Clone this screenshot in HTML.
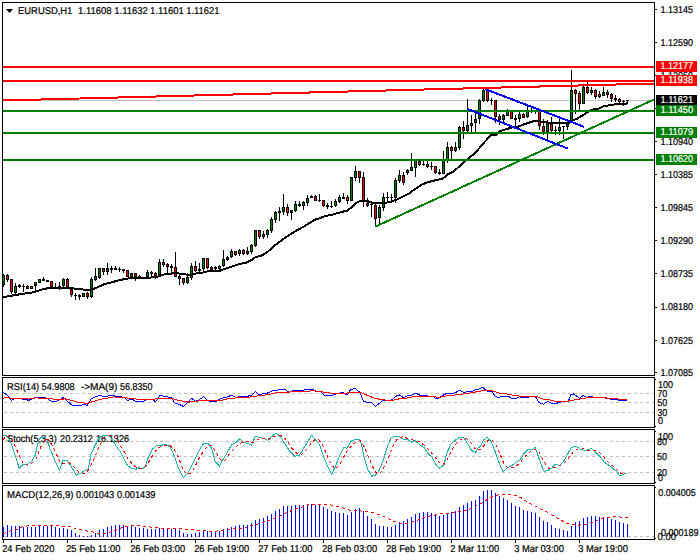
<!DOCTYPE html>
<html><head><meta charset="utf-8"><title>EURUSD H1</title>
<style>html,body{margin:0;padding:0;background:#fff;}body{width:700px;height:560px;overflow:hidden;font-family:"Liberation Sans", sans-serif;}svg{display:block}</style>
</head><body>
<svg width="700" height="560" viewBox="0 0 700 560" font-family='"Liberation Sans", sans-serif' shape-rendering="crispEdges" text-rendering="geometricPrecision">
<rect x="0" y="0" width="700" height="560" fill="#fff"/>
<g>
<rect x="3" y="100" width="651" height="1" fill="#c0c0c0"/>
<rect x="3" y="274" width="1" height="13" fill="#000"/>
<rect x="2" y="275" width="3" height="10" fill="#000"/>
<rect x="3" y="276" width="1" height="8" fill="#008000"/>
<rect x="7" y="274" width="1" height="8" fill="#000"/>
<rect x="6" y="275" width="3" height="5" fill="#000"/>
<rect x="7" y="276" width="1" height="3" fill="#ff0000"/>
<rect x="11" y="279" width="1" height="15" fill="#000"/>
<rect x="10" y="279" width="3" height="13" fill="#000"/>
<rect x="11" y="280" width="1" height="11" fill="#ff0000"/>
<rect x="15" y="283" width="1" height="11" fill="#000"/>
<rect x="14" y="286" width="3" height="7" fill="#000"/>
<rect x="15" y="287" width="1" height="5" fill="#008000"/>
<rect x="19" y="284" width="1" height="4" fill="#000"/>
<rect x="18" y="285" width="3" height="2" fill="#000"/>
<rect x="23" y="284" width="1" height="8" fill="#000"/>
<rect x="22" y="286" width="3" height="1" fill="#000"/>
<rect x="27" y="285" width="1" height="4" fill="#000"/>
<rect x="26" y="286" width="3" height="3" fill="#000"/>
<rect x="27" y="287" width="1" height="1" fill="#ff0000"/>
<rect x="31" y="286" width="1" height="3" fill="#000"/>
<rect x="30" y="286" width="3" height="3" fill="#000"/>
<rect x="31" y="287" width="1" height="1" fill="#008000"/>
<rect x="35" y="282" width="1" height="9" fill="#000"/>
<rect x="34" y="282" width="3" height="4" fill="#000"/>
<rect x="35" y="283" width="1" height="2" fill="#008000"/>
<rect x="39" y="279" width="1" height="4" fill="#000"/>
<rect x="38" y="279" width="3" height="4" fill="#000"/>
<rect x="39" y="280" width="1" height="2" fill="#008000"/>
<rect x="43" y="277" width="1" height="4" fill="#000"/>
<rect x="42" y="279" width="3" height="2" fill="#000"/>
<rect x="47" y="280" width="1" height="2" fill="#000"/>
<rect x="46" y="280" width="3" height="2" fill="#000"/>
<rect x="51" y="281" width="1" height="6" fill="#000"/>
<rect x="50" y="281" width="3" height="6" fill="#000"/>
<rect x="51" y="282" width="1" height="4" fill="#ff0000"/>
<rect x="55" y="283" width="1" height="6" fill="#000"/>
<rect x="54" y="287" width="3" height="1" fill="#000"/>
<rect x="59" y="282" width="1" height="8" fill="#000"/>
<rect x="58" y="286" width="3" height="1" fill="#000"/>
<rect x="63" y="278" width="1" height="9" fill="#000"/>
<rect x="62" y="279" width="3" height="7" fill="#000"/>
<rect x="63" y="280" width="1" height="5" fill="#008000"/>
<rect x="67" y="278" width="1" height="10" fill="#000"/>
<rect x="66" y="279" width="3" height="8" fill="#000"/>
<rect x="67" y="280" width="1" height="6" fill="#ff0000"/>
<rect x="71" y="289" width="1" height="8" fill="#000"/>
<rect x="70" y="289" width="3" height="6" fill="#000"/>
<rect x="71" y="290" width="1" height="4" fill="#ff0000"/>
<rect x="75" y="293" width="1" height="7" fill="#000"/>
<rect x="74" y="295" width="3" height="1" fill="#000"/>
<rect x="79" y="294" width="1" height="6" fill="#000"/>
<rect x="78" y="295" width="3" height="2" fill="#000"/>
<rect x="83" y="293" width="1" height="4" fill="#000"/>
<rect x="82" y="293" width="3" height="4" fill="#000"/>
<rect x="83" y="294" width="1" height="2" fill="#008000"/>
<rect x="87" y="292" width="1" height="7" fill="#000"/>
<rect x="86" y="293" width="3" height="4" fill="#000"/>
<rect x="87" y="294" width="1" height="2" fill="#ff0000"/>
<rect x="91" y="277" width="1" height="21" fill="#000"/>
<rect x="90" y="279" width="3" height="18" fill="#000"/>
<rect x="91" y="280" width="1" height="16" fill="#008000"/>
<rect x="95" y="268" width="1" height="13" fill="#000"/>
<rect x="94" y="276" width="3" height="4" fill="#000"/>
<rect x="95" y="277" width="1" height="2" fill="#008000"/>
<rect x="99" y="268" width="1" height="11" fill="#000"/>
<rect x="98" y="268" width="3" height="10" fill="#000"/>
<rect x="99" y="269" width="1" height="8" fill="#008000"/>
<rect x="103" y="268" width="1" height="7" fill="#000"/>
<rect x="102" y="268" width="3" height="4" fill="#000"/>
<rect x="103" y="269" width="1" height="2" fill="#ff0000"/>
<rect x="107" y="263" width="1" height="12" fill="#000"/>
<rect x="106" y="268" width="3" height="4" fill="#000"/>
<rect x="107" y="269" width="1" height="2" fill="#008000"/>
<rect x="111" y="266" width="1" height="7" fill="#000"/>
<rect x="110" y="268" width="3" height="2" fill="#000"/>
<rect x="115" y="266" width="1" height="4" fill="#000"/>
<rect x="114" y="268" width="3" height="2" fill="#000"/>
<rect x="119" y="267" width="1" height="5" fill="#000"/>
<rect x="118" y="269" width="3" height="1" fill="#000"/>
<rect x="123" y="269" width="1" height="4" fill="#000"/>
<rect x="122" y="269" width="3" height="2" fill="#000"/>
<rect x="127" y="270" width="1" height="7" fill="#000"/>
<rect x="126" y="270" width="3" height="7" fill="#000"/>
<rect x="127" y="271" width="1" height="5" fill="#ff0000"/>
<rect x="131" y="273" width="1" height="4" fill="#000"/>
<rect x="130" y="273" width="3" height="4" fill="#000"/>
<rect x="131" y="274" width="1" height="2" fill="#008000"/>
<rect x="135" y="273" width="1" height="8" fill="#000"/>
<rect x="134" y="273" width="3" height="4" fill="#000"/>
<rect x="135" y="274" width="1" height="2" fill="#ff0000"/>
<rect x="139" y="275" width="1" height="3" fill="#000"/>
<rect x="138" y="276" width="3" height="2" fill="#000"/>
<rect x="143" y="277" width="1" height="1" fill="#000"/>
<rect x="142" y="277" width="3" height="1" fill="#000"/>
<rect x="147" y="270" width="1" height="8" fill="#000"/>
<rect x="146" y="272" width="3" height="5" fill="#000"/>
<rect x="147" y="273" width="1" height="3" fill="#008000"/>
<rect x="151" y="271" width="1" height="5" fill="#000"/>
<rect x="150" y="272" width="3" height="2" fill="#000"/>
<rect x="155" y="272" width="1" height="7" fill="#000"/>
<rect x="154" y="273" width="3" height="3" fill="#000"/>
<rect x="155" y="274" width="1" height="1" fill="#ff0000"/>
<rect x="159" y="259" width="1" height="16" fill="#000"/>
<rect x="158" y="262" width="3" height="13" fill="#000"/>
<rect x="159" y="263" width="1" height="11" fill="#008000"/>
<rect x="163" y="259" width="1" height="8" fill="#000"/>
<rect x="162" y="262" width="3" height="3" fill="#000"/>
<rect x="163" y="263" width="1" height="1" fill="#ff0000"/>
<rect x="167" y="263" width="1" height="10" fill="#000"/>
<rect x="166" y="264" width="3" height="3" fill="#000"/>
<rect x="167" y="265" width="1" height="1" fill="#ff0000"/>
<rect x="171" y="264" width="1" height="9" fill="#000"/>
<rect x="170" y="266" width="3" height="2" fill="#000"/>
<rect x="175" y="252" width="1" height="25" fill="#000"/>
<rect x="174" y="267" width="3" height="10" fill="#000"/>
<rect x="175" y="268" width="1" height="8" fill="#ff0000"/>
<rect x="179" y="273" width="1" height="12" fill="#000"/>
<rect x="178" y="276" width="3" height="3" fill="#000"/>
<rect x="179" y="277" width="1" height="1" fill="#ff0000"/>
<rect x="183" y="278" width="1" height="7" fill="#000"/>
<rect x="182" y="278" width="3" height="5" fill="#000"/>
<rect x="183" y="279" width="1" height="3" fill="#ff0000"/>
<rect x="187" y="273" width="1" height="11" fill="#000"/>
<rect x="186" y="277" width="3" height="6" fill="#000"/>
<rect x="187" y="278" width="1" height="4" fill="#008000"/>
<rect x="191" y="263" width="1" height="17" fill="#000"/>
<rect x="190" y="266" width="3" height="12" fill="#000"/>
<rect x="191" y="267" width="1" height="10" fill="#008000"/>
<rect x="195" y="261" width="1" height="11" fill="#000"/>
<rect x="194" y="266" width="3" height="5" fill="#000"/>
<rect x="195" y="267" width="1" height="3" fill="#ff0000"/>
<rect x="199" y="263" width="1" height="10" fill="#000"/>
<rect x="198" y="269" width="3" height="2" fill="#000"/>
<rect x="203" y="258" width="1" height="15" fill="#000"/>
<rect x="202" y="258" width="3" height="11" fill="#000"/>
<rect x="203" y="259" width="1" height="9" fill="#008000"/>
<rect x="207" y="258" width="1" height="11" fill="#000"/>
<rect x="206" y="258" width="3" height="10" fill="#000"/>
<rect x="207" y="259" width="1" height="8" fill="#ff0000"/>
<rect x="211" y="266" width="1" height="4" fill="#000"/>
<rect x="210" y="267" width="3" height="3" fill="#000"/>
<rect x="211" y="268" width="1" height="1" fill="#ff0000"/>
<rect x="215" y="266" width="1" height="4" fill="#000"/>
<rect x="214" y="267" width="3" height="2" fill="#000"/>
<rect x="219" y="265" width="1" height="7" fill="#000"/>
<rect x="218" y="266" width="3" height="3" fill="#000"/>
<rect x="219" y="267" width="1" height="1" fill="#008000"/>
<rect x="223" y="250" width="1" height="17" fill="#000"/>
<rect x="222" y="259" width="3" height="7" fill="#000"/>
<rect x="223" y="260" width="1" height="5" fill="#008000"/>
<rect x="227" y="256" width="1" height="5" fill="#000"/>
<rect x="226" y="257" width="3" height="3" fill="#000"/>
<rect x="227" y="258" width="1" height="1" fill="#008000"/>
<rect x="231" y="249" width="1" height="9" fill="#000"/>
<rect x="230" y="251" width="3" height="6" fill="#000"/>
<rect x="231" y="252" width="1" height="4" fill="#008000"/>
<rect x="235" y="251" width="1" height="5" fill="#000"/>
<rect x="234" y="251" width="3" height="4" fill="#000"/>
<rect x="235" y="252" width="1" height="2" fill="#ff0000"/>
<rect x="239" y="249" width="1" height="7" fill="#000"/>
<rect x="238" y="250" width="3" height="4" fill="#000"/>
<rect x="239" y="251" width="1" height="2" fill="#008000"/>
<rect x="243" y="249" width="1" height="6" fill="#000"/>
<rect x="242" y="250" width="3" height="4" fill="#000"/>
<rect x="243" y="251" width="1" height="2" fill="#ff0000"/>
<rect x="247" y="247" width="1" height="8" fill="#000"/>
<rect x="246" y="251" width="3" height="3" fill="#000"/>
<rect x="247" y="252" width="1" height="1" fill="#008000"/>
<rect x="251" y="244" width="1" height="10" fill="#000"/>
<rect x="250" y="245" width="3" height="7" fill="#000"/>
<rect x="251" y="246" width="1" height="5" fill="#008000"/>
<rect x="255" y="230" width="1" height="17" fill="#000"/>
<rect x="254" y="230" width="3" height="16" fill="#000"/>
<rect x="255" y="231" width="1" height="14" fill="#008000"/>
<rect x="259" y="230" width="1" height="9" fill="#000"/>
<rect x="258" y="230" width="3" height="7" fill="#000"/>
<rect x="259" y="231" width="1" height="5" fill="#ff0000"/>
<rect x="263" y="231" width="1" height="8" fill="#000"/>
<rect x="262" y="234" width="3" height="3" fill="#000"/>
<rect x="263" y="235" width="1" height="1" fill="#008000"/>
<rect x="267" y="229" width="1" height="9" fill="#000"/>
<rect x="266" y="230" width="3" height="5" fill="#000"/>
<rect x="267" y="231" width="1" height="3" fill="#008000"/>
<rect x="271" y="217" width="1" height="16" fill="#000"/>
<rect x="270" y="219" width="3" height="12" fill="#000"/>
<rect x="271" y="220" width="1" height="10" fill="#008000"/>
<rect x="275" y="211" width="1" height="12" fill="#000"/>
<rect x="274" y="212" width="3" height="8" fill="#000"/>
<rect x="275" y="213" width="1" height="6" fill="#008000"/>
<rect x="279" y="207" width="1" height="14" fill="#000"/>
<rect x="278" y="211" width="3" height="2" fill="#000"/>
<rect x="283" y="194" width="1" height="21" fill="#000"/>
<rect x="282" y="207" width="3" height="5" fill="#000"/>
<rect x="283" y="208" width="1" height="3" fill="#008000"/>
<rect x="287" y="204" width="1" height="12" fill="#000"/>
<rect x="286" y="207" width="3" height="6" fill="#000"/>
<rect x="287" y="208" width="1" height="4" fill="#ff0000"/>
<rect x="291" y="210" width="1" height="10" fill="#000"/>
<rect x="290" y="210" width="3" height="3" fill="#000"/>
<rect x="291" y="211" width="1" height="1" fill="#008000"/>
<rect x="295" y="201" width="1" height="11" fill="#000"/>
<rect x="294" y="204" width="3" height="7" fill="#000"/>
<rect x="295" y="205" width="1" height="5" fill="#008000"/>
<rect x="299" y="201" width="1" height="6" fill="#000"/>
<rect x="298" y="204" width="3" height="2" fill="#000"/>
<rect x="303" y="201" width="1" height="9" fill="#000"/>
<rect x="302" y="202" width="3" height="4" fill="#000"/>
<rect x="303" y="203" width="1" height="2" fill="#008000"/>
<rect x="307" y="195" width="1" height="11" fill="#000"/>
<rect x="306" y="198" width="3" height="5" fill="#000"/>
<rect x="307" y="199" width="1" height="3" fill="#008000"/>
<rect x="311" y="195" width="1" height="3" fill="#000"/>
<rect x="310" y="196" width="3" height="2" fill="#000"/>
<rect x="315" y="195" width="1" height="6" fill="#000"/>
<rect x="314" y="196" width="3" height="5" fill="#000"/>
<rect x="315" y="197" width="1" height="3" fill="#ff0000"/>
<rect x="319" y="194" width="1" height="8" fill="#000"/>
<rect x="318" y="200" width="3" height="1" fill="#000"/>
<rect x="323" y="200" width="1" height="7" fill="#000"/>
<rect x="322" y="200" width="3" height="6" fill="#000"/>
<rect x="323" y="201" width="1" height="4" fill="#ff0000"/>
<rect x="327" y="203" width="1" height="6" fill="#000"/>
<rect x="326" y="205" width="3" height="2" fill="#000"/>
<rect x="331" y="201" width="1" height="7" fill="#000"/>
<rect x="330" y="206" width="3" height="1" fill="#000"/>
<rect x="335" y="199" width="1" height="8" fill="#000"/>
<rect x="334" y="201" width="3" height="5" fill="#000"/>
<rect x="335" y="202" width="1" height="3" fill="#008000"/>
<rect x="339" y="195" width="1" height="8" fill="#000"/>
<rect x="338" y="197" width="3" height="5" fill="#000"/>
<rect x="339" y="198" width="1" height="3" fill="#008000"/>
<rect x="343" y="193" width="1" height="6" fill="#000"/>
<rect x="342" y="197" width="3" height="2" fill="#000"/>
<rect x="347" y="195" width="1" height="9" fill="#000"/>
<rect x="346" y="197" width="3" height="4" fill="#000"/>
<rect x="347" y="198" width="1" height="2" fill="#ff0000"/>
<rect x="351" y="177" width="1" height="24" fill="#000"/>
<rect x="350" y="177" width="3" height="24" fill="#000"/>
<rect x="351" y="178" width="1" height="22" fill="#008000"/>
<rect x="355" y="166" width="1" height="15" fill="#000"/>
<rect x="354" y="171" width="3" height="7" fill="#000"/>
<rect x="355" y="172" width="1" height="5" fill="#008000"/>
<rect x="359" y="171" width="1" height="12" fill="#000"/>
<rect x="358" y="171" width="3" height="7" fill="#000"/>
<rect x="359" y="172" width="1" height="5" fill="#ff0000"/>
<rect x="363" y="172" width="1" height="35" fill="#000"/>
<rect x="362" y="177" width="3" height="24" fill="#000"/>
<rect x="363" y="178" width="1" height="22" fill="#ff0000"/>
<rect x="367" y="198" width="1" height="9" fill="#000"/>
<rect x="366" y="203" width="3" height="3" fill="#000"/>
<rect x="367" y="204" width="1" height="1" fill="#ff0000"/>
<rect x="371" y="204" width="1" height="13" fill="#000"/>
<rect x="370" y="204" width="3" height="1" fill="#000"/>
<rect x="375" y="203" width="1" height="23" fill="#000"/>
<rect x="374" y="205" width="3" height="14" fill="#000"/>
<rect x="375" y="206" width="1" height="12" fill="#ff0000"/>
<rect x="379" y="205" width="1" height="19" fill="#000"/>
<rect x="378" y="207" width="3" height="11" fill="#000"/>
<rect x="379" y="208" width="1" height="9" fill="#008000"/>
<rect x="383" y="193" width="1" height="18" fill="#000"/>
<rect x="382" y="197" width="3" height="11" fill="#000"/>
<rect x="383" y="198" width="1" height="9" fill="#008000"/>
<rect x="387" y="192" width="1" height="9" fill="#000"/>
<rect x="386" y="197" width="3" height="1" fill="#000"/>
<rect x="391" y="194" width="1" height="9" fill="#000"/>
<rect x="390" y="197" width="3" height="1" fill="#000"/>
<rect x="395" y="178" width="1" height="25" fill="#000"/>
<rect x="394" y="180" width="3" height="18" fill="#000"/>
<rect x="395" y="181" width="1" height="16" fill="#008000"/>
<rect x="399" y="170" width="1" height="13" fill="#000"/>
<rect x="398" y="175" width="3" height="6" fill="#000"/>
<rect x="399" y="176" width="1" height="4" fill="#008000"/>
<rect x="403" y="172" width="1" height="13" fill="#000"/>
<rect x="402" y="175" width="3" height="8" fill="#000"/>
<rect x="403" y="176" width="1" height="6" fill="#ff0000"/>
<rect x="407" y="169" width="1" height="6" fill="#000"/>
<rect x="406" y="170" width="3" height="3" fill="#000"/>
<rect x="407" y="171" width="1" height="1" fill="#008000"/>
<rect x="411" y="153" width="1" height="18" fill="#000"/>
<rect x="410" y="167" width="3" height="4" fill="#000"/>
<rect x="411" y="168" width="1" height="2" fill="#008000"/>
<rect x="415" y="160" width="1" height="17" fill="#000"/>
<rect x="414" y="160" width="3" height="8" fill="#000"/>
<rect x="415" y="161" width="1" height="6" fill="#008000"/>
<rect x="419" y="160" width="1" height="6" fill="#000"/>
<rect x="418" y="161" width="3" height="4" fill="#000"/>
<rect x="419" y="162" width="1" height="2" fill="#ff0000"/>
<rect x="423" y="161" width="1" height="5" fill="#000"/>
<rect x="422" y="164" width="3" height="1" fill="#000"/>
<rect x="427" y="161" width="1" height="7" fill="#000"/>
<rect x="426" y="164" width="3" height="3" fill="#000"/>
<rect x="427" y="165" width="1" height="1" fill="#ff0000"/>
<rect x="431" y="162" width="1" height="8" fill="#000"/>
<rect x="430" y="166" width="3" height="1" fill="#000"/>
<rect x="435" y="166" width="1" height="8" fill="#000"/>
<rect x="434" y="166" width="3" height="7" fill="#000"/>
<rect x="435" y="167" width="1" height="5" fill="#ff0000"/>
<rect x="439" y="169" width="1" height="6" fill="#000"/>
<rect x="438" y="172" width="3" height="2" fill="#000"/>
<rect x="443" y="151" width="1" height="23" fill="#000"/>
<rect x="442" y="160" width="3" height="14" fill="#000"/>
<rect x="443" y="161" width="1" height="12" fill="#008000"/>
<rect x="447" y="142" width="1" height="21" fill="#000"/>
<rect x="446" y="147" width="3" height="13" fill="#000"/>
<rect x="447" y="148" width="1" height="11" fill="#008000"/>
<rect x="451" y="146" width="1" height="13" fill="#000"/>
<rect x="450" y="147" width="3" height="4" fill="#000"/>
<rect x="451" y="148" width="1" height="2" fill="#ff0000"/>
<rect x="455" y="142" width="1" height="10" fill="#000"/>
<rect x="454" y="147" width="3" height="4" fill="#000"/>
<rect x="455" y="148" width="1" height="2" fill="#008000"/>
<rect x="459" y="126" width="1" height="24" fill="#000"/>
<rect x="458" y="127" width="3" height="21" fill="#000"/>
<rect x="459" y="128" width="1" height="19" fill="#008000"/>
<rect x="463" y="121" width="1" height="18" fill="#000"/>
<rect x="462" y="127" width="3" height="4" fill="#000"/>
<rect x="463" y="128" width="1" height="2" fill="#ff0000"/>
<rect x="467" y="99" width="1" height="33" fill="#000"/>
<rect x="466" y="125" width="3" height="6" fill="#000"/>
<rect x="467" y="126" width="1" height="4" fill="#008000"/>
<rect x="471" y="115" width="1" height="17" fill="#000"/>
<rect x="470" y="123" width="3" height="3" fill="#000"/>
<rect x="471" y="124" width="1" height="1" fill="#008000"/>
<rect x="475" y="113" width="1" height="19" fill="#000"/>
<rect x="474" y="119" width="3" height="4" fill="#000"/>
<rect x="475" y="120" width="1" height="2" fill="#008000"/>
<rect x="479" y="99" width="1" height="25" fill="#000"/>
<rect x="478" y="100" width="3" height="19" fill="#000"/>
<rect x="479" y="101" width="1" height="17" fill="#008000"/>
<rect x="483" y="89" width="1" height="13" fill="#000"/>
<rect x="482" y="90" width="3" height="11" fill="#000"/>
<rect x="483" y="91" width="1" height="9" fill="#008000"/>
<rect x="487" y="90" width="1" height="12" fill="#000"/>
<rect x="486" y="90" width="3" height="11" fill="#000"/>
<rect x="487" y="91" width="1" height="9" fill="#ff0000"/>
<rect x="491" y="98" width="1" height="7" fill="#000"/>
<rect x="490" y="100" width="3" height="1" fill="#000"/>
<rect x="495" y="100" width="1" height="23" fill="#000"/>
<rect x="494" y="100" width="3" height="17" fill="#000"/>
<rect x="495" y="101" width="1" height="15" fill="#ff0000"/>
<rect x="499" y="114" width="1" height="11" fill="#000"/>
<rect x="498" y="116" width="3" height="4" fill="#000"/>
<rect x="499" y="117" width="1" height="2" fill="#ff0000"/>
<rect x="503" y="114" width="1" height="8" fill="#000"/>
<rect x="502" y="115" width="3" height="5" fill="#000"/>
<rect x="503" y="116" width="1" height="3" fill="#008000"/>
<rect x="507" y="109" width="1" height="7" fill="#000"/>
<rect x="506" y="111" width="3" height="5" fill="#000"/>
<rect x="507" y="112" width="1" height="3" fill="#008000"/>
<rect x="511" y="111" width="1" height="8" fill="#000"/>
<rect x="510" y="111" width="3" height="8" fill="#000"/>
<rect x="511" y="112" width="1" height="6" fill="#ff0000"/>
<rect x="515" y="115" width="1" height="11" fill="#000"/>
<rect x="514" y="118" width="3" height="2" fill="#000"/>
<rect x="519" y="111" width="1" height="11" fill="#000"/>
<rect x="518" y="114" width="3" height="5" fill="#000"/>
<rect x="519" y="115" width="1" height="3" fill="#008000"/>
<rect x="523" y="113" width="1" height="5" fill="#000"/>
<rect x="522" y="114" width="3" height="4" fill="#000"/>
<rect x="523" y="115" width="1" height="2" fill="#ff0000"/>
<rect x="527" y="106" width="1" height="12" fill="#000"/>
<rect x="526" y="111" width="3" height="6" fill="#000"/>
<rect x="527" y="112" width="1" height="4" fill="#008000"/>
<rect x="531" y="108" width="1" height="5" fill="#000"/>
<rect x="530" y="111" width="3" height="1" fill="#000"/>
<rect x="535" y="111" width="1" height="3" fill="#000"/>
<rect x="534" y="111" width="3" height="1" fill="#000"/>
<rect x="539" y="111" width="1" height="19" fill="#000"/>
<rect x="538" y="111" width="3" height="15" fill="#000"/>
<rect x="539" y="112" width="1" height="13" fill="#ff0000"/>
<rect x="543" y="119" width="1" height="16" fill="#000"/>
<rect x="542" y="126" width="3" height="6" fill="#000"/>
<rect x="543" y="127" width="1" height="4" fill="#ff0000"/>
<rect x="547" y="120" width="1" height="19" fill="#000"/>
<rect x="546" y="123" width="3" height="9" fill="#000"/>
<rect x="547" y="124" width="1" height="7" fill="#008000"/>
<rect x="551" y="117" width="1" height="15" fill="#000"/>
<rect x="550" y="124" width="3" height="7" fill="#000"/>
<rect x="551" y="125" width="1" height="5" fill="#ff0000"/>
<rect x="555" y="126" width="1" height="9" fill="#000"/>
<rect x="554" y="130" width="3" height="1" fill="#000"/>
<rect x="559" y="119" width="1" height="16" fill="#000"/>
<rect x="558" y="127" width="3" height="4" fill="#000"/>
<rect x="559" y="128" width="1" height="2" fill="#008000"/>
<rect x="563" y="126" width="1" height="13" fill="#000"/>
<rect x="562" y="126" width="3" height="1" fill="#000"/>
<rect x="567" y="123" width="1" height="7" fill="#000"/>
<rect x="566" y="124" width="3" height="3" fill="#000"/>
<rect x="567" y="125" width="1" height="1" fill="#008000"/>
<rect x="571" y="70" width="1" height="51" fill="#000"/>
<rect x="570" y="90" width="3" height="31" fill="#000"/>
<rect x="571" y="91" width="1" height="29" fill="#008000"/>
<rect x="575" y="89" width="1" height="25" fill="#000"/>
<rect x="574" y="90" width="3" height="4" fill="#000"/>
<rect x="575" y="91" width="1" height="2" fill="#ff0000"/>
<rect x="579" y="91" width="1" height="19" fill="#000"/>
<rect x="578" y="93" width="3" height="11" fill="#000"/>
<rect x="579" y="94" width="1" height="9" fill="#ff0000"/>
<rect x="583" y="86" width="1" height="18" fill="#000"/>
<rect x="582" y="87" width="3" height="17" fill="#000"/>
<rect x="583" y="88" width="1" height="15" fill="#008000"/>
<rect x="587" y="82" width="1" height="12" fill="#000"/>
<rect x="586" y="87" width="3" height="6" fill="#000"/>
<rect x="587" y="88" width="1" height="4" fill="#ff0000"/>
<rect x="591" y="87" width="1" height="8" fill="#000"/>
<rect x="590" y="90" width="3" height="3" fill="#000"/>
<rect x="591" y="91" width="1" height="1" fill="#008000"/>
<rect x="595" y="89" width="1" height="10" fill="#000"/>
<rect x="594" y="90" width="3" height="7" fill="#000"/>
<rect x="595" y="91" width="1" height="5" fill="#ff0000"/>
<rect x="599" y="91" width="1" height="7" fill="#000"/>
<rect x="598" y="94" width="3" height="3" fill="#000"/>
<rect x="599" y="95" width="1" height="1" fill="#ff0000"/>
<rect x="603" y="87" width="1" height="9" fill="#000"/>
<rect x="602" y="92" width="3" height="4" fill="#000"/>
<rect x="603" y="93" width="1" height="2" fill="#008000"/>
<rect x="607" y="90" width="1" height="8" fill="#000"/>
<rect x="606" y="92" width="3" height="3" fill="#000"/>
<rect x="607" y="93" width="1" height="1" fill="#ff0000"/>
<rect x="611" y="93" width="1" height="9" fill="#000"/>
<rect x="610" y="94" width="3" height="5" fill="#000"/>
<rect x="611" y="95" width="1" height="3" fill="#ff0000"/>
<rect x="615" y="95" width="1" height="7" fill="#000"/>
<rect x="614" y="98" width="3" height="2" fill="#000"/>
<rect x="619" y="98" width="1" height="5" fill="#000"/>
<rect x="618" y="99" width="3" height="3" fill="#000"/>
<rect x="619" y="100" width="1" height="1" fill="#ff0000"/>
<rect x="623" y="100" width="1" height="6" fill="#000"/>
<rect x="622" y="101" width="3" height="1" fill="#000"/>
<rect x="627" y="100" width="1" height="3" fill="#000"/>
<rect x="626" y="100" width="3" height="1" fill="#000"/>
<polyline points="2.3,296.9 7.5,296.5 11.5,295.6 15.5,295.2 19.5,294.3 23.5,293.8 27.5,293.1 31.5,292.6 35.5,291.8 39.5,290.3 43.5,289.1 47.5,288.3 51.5,287.9 55.0,287.7 67.0,287.9 75.7,288.7 84.3,289.7 90.3,289.7 94.6,288.5 99.7,286.2 104.8,284.0 110.0,282.9 115.4,281.2 120.0,279.9 126.9,278.8 130.0,277.9 148.0,277.8 157.7,276.7 162.3,274.9 168.0,273.6 176.0,273.4 183.5,273.7 186.0,274.6 193.0,274.6 196.3,273.4 203.0,272.5 208.0,271.3 219.7,271.1 221.5,270.0 228.3,267.8 234.3,265.7 240.3,263.9 246.3,262.7 251.5,260.0 255.7,257.1 260.0,256.1 262.9,254.9 267.4,252.0 274.3,245.7 283.4,238.9 290.3,234.3 297.1,230.3 304.0,226.5 310.9,222.2 315.4,219.5 320.0,218.1 323.4,216.6 332.6,214.6 341.7,211.9 347.4,210.7 351.4,207.4 356.0,202.9 360.6,200.8 368.6,201.5 374.3,203.4 383.4,203.4 390.3,201.7 396.0,200.0 401.7,197.1 408.6,193.7 414.3,189.7 417.1,187.6 422.9,184.0 429.7,181.7 436.6,180.0 442.3,178.9 448.0,174.3 453.7,171.4 459.4,166.3 464.0,162.3 468.6,158.3 474.3,153.7 480.0,147.4 482.3,144.5 491.1,135.0 497.1,134.5 499.7,131.1 505.7,129.4 510.9,127.7 517.7,126.8 522.9,124.7 528.0,123.0 533.1,121.3 540.0,121.3 545.0,122.4 568.6,123.4 571.4,120.6 577.1,118.8 585.1,113.7 592.0,109.7 598.9,108.6 603.4,106.3 610.3,105.1 617.1,104.0 624.0,103.7 628.0,103.4" fill="none" stroke="#000" stroke-width="2" stroke-linejoin="round"/>
<rect x="3" y="66" width="651" height="2" fill="#ff0000"/>
<rect x="3" y="80" width="651" height="2" fill="#ff0000"/>
<rect x="3" y="110" width="651" height="2" fill="#008000"/>
<rect x="3" y="132" width="651" height="2" fill="#008000"/>
<rect x="3" y="159" width="651" height="2" fill="#008000"/>
<line x1="3" y1="100.5" x2="654" y2="83.52" stroke="#ff0000" stroke-width="2"/>
<line x1="375.4" y1="226.6" x2="654" y2="99.5" stroke="#008000" stroke-width="2"/>
<line x1="485.4" y1="89.2" x2="584" y2="126.8" stroke="#0000ff" stroke-width="2"/>
<line x1="467.5" y1="108.9" x2="567.8" y2="148.5" stroke="#0000ff" stroke-width="2"/>
</g>
<line x1="4" y1="393.5" x2="654" y2="393.5" stroke="#c0c0c0" stroke-width="1" stroke-dasharray="3 3"/>
<line x1="4" y1="402.5" x2="654" y2="402.5" stroke="#c0c0c0" stroke-width="1" stroke-dasharray="3 3"/>
<line x1="4" y1="412.5" x2="654" y2="412.5" stroke="#c0c0c0" stroke-width="1" stroke-dasharray="3 3"/>
<text x="7.1" y="389.7" font-size="10" fill="#000" stroke="#000" stroke-width="0.22" textLength="32.10" lengthAdjust="spacingAndGlyphs" >RSI(14)</text>
<text x="41.6" y="389.7" font-size="10" fill="#000" stroke="#000" stroke-width="0.22" textLength="33.10" lengthAdjust="spacingAndGlyphs" >54.9808</text>
<text x="80.9" y="389.7" font-size="10" fill="#000" stroke="#000" stroke-width="0.22" textLength="36.50" lengthAdjust="spacingAndGlyphs" >-&gt;MA(9)</text>
<text x="120.1" y="389.7" font-size="10" fill="#000" stroke="#000" stroke-width="0.22" textLength="32.30" lengthAdjust="spacingAndGlyphs" >56.8350</text>
<polyline points="3.1,392.3 6.9,394.9 11.7,400.5 13.7,398.8 25.7,399.1 28.3,400.5 34.3,397.9 37.7,397.4 45.4,397.4 51.4,401.4 55.7,401.7 59.1,400.0 63.4,397.4 67.7,401.7 72.0,405.1 80.6,405.5 84.0,403.9 87.4,405.5 90.9,399.1 96.0,396.6 99.4,395.4 104.6,396.6 111.4,395.4 120.0,396.9 124.3,397.1 127.7,400.5 132.0,399.1 136.3,401.7 143.1,401.7 145.7,400.0 152.6,399.7 155.7,401.7 160.3,395.2 165.4,396.6 169.7,397.4 171.4,397.9 174.9,403.1 179.1,404.3 183.4,406.5 187.7,402.6 191.7,398.3 195.4,401.4 198.9,400.0 203.7,396.6 206.6,399.7 210.0,401.4 216.0,401.4 221.1,398.3 226.3,397.4 231.4,395.2 235.7,397.4 240.0,396.6 243.4,396.9 247.7,396.2 252.0,395.2 255.4,391.4 258.5,394.5 262.3,394.0 267.4,393.1 271.7,391.1 276.9,390.2 282.0,389.4 285.4,389.7 288.9,392.3 293.1,390.6 298.3,390.6 301.7,390.6 306.0,389.4 312.9,389.4 316.3,391.4 320.6,391.8 324.0,395.2 332.6,395.2 336.0,394.0 339.4,393.1 342.9,392.3 347.1,395.2 350.6,389.7 354.9,388.3 358.3,391.1 360.0,392.3 363.4,401.4 366.9,402.2 371.1,402.2 375.4,406.5 382.3,400.9 385.7,400.0 391.7,400.0 396.0,396.2 399.4,394.9 403.7,397.9 408.0,395.2 411.4,395.2 415.7,393.1 420.0,395.2 425.1,395.2 428.6,396.2 433.7,396.9 435.4,398.3 438.9,398.3 443.1,395.2 447.4,393.1 451.7,394.0 456.0,392.3 459.4,390.2 464.6,392.6 468.0,391.4 473.1,391.1 476.6,389.4 480.0,388.9 482.6,387.1 485.1,389.7 487.7,391.4 492.0,391.4 495.4,396.6 498.9,397.4 502.3,396.2 508.3,396.2 511.7,398.3 516.0,398.3 519.4,396.9 524.6,397.9 529.7,396.9 535.7,396.9 539.1,402.6 543.4,404.3 547.7,401.4 552.0,403.4 556.3,403.4 560.6,402.1 564.0,401.7 568.3,401.4 570.9,394.5 573.4,394.0 576.9,396.2 579.4,398.3 582.9,395.7 587.1,397.4 590.6,396.2 594.9,397.9 600.0,397.9 603.0,397.4 608.0,398.6 612.0,399.5 618.0,399.6 619.0,400.5 627.0,400.5" fill="none" stroke="#0000ff" stroke-width="1" />
<polyline points="3.1,398.3 6.9,397.4 12.0,398.3 25.7,398.3 28.3,399.1 36.0,397.9 44.6,398.3 51.4,398.8 58.3,399.7 65.1,398.8 72.0,400.5 80.6,402.9 87.4,403.1 92.6,401.7 99.4,399.5 106.3,398.3 113.1,396.9 120.0,397.4 125.1,397.9 132.0,398.3 138.9,399.5 145.7,399.7 154.3,399.1 162.9,398.3 171.4,398.3 178.3,400.3 185.1,401.7 188.6,402.1 195.4,401.4 202.3,400.5 209.1,400.5 216.0,400.5 222.9,400.0 229.7,398.3 236.6,397.9 240.0,397.9 246.9,397.4 253.7,396.6 260.6,395.2 267.4,394.9 274.3,393.1 281.1,392.3 288.0,392.3 294.9,391.4 301.7,391.4 308.6,391.1 313.7,390.6 320.6,391.8 325.7,392.3 332.6,393.5 339.4,393.5 346.3,393.1 353.1,392.3 360.0,392.3 366.9,395.2 373.7,397.9 380.6,399.5 387.4,400.3 392.6,400.3 399.4,398.8 408.0,397.9 414.9,396.2 421.7,396.2 428.6,396.2 435.4,396.9 438.9,397.4 444.0,396.2 449.1,395.7 456.0,394.9 462.9,394.0 469.7,393.1 476.6,391.8 480.0,391.3 485.1,390.2 492.0,390.6 498.9,393.1 505.7,393.7 512.6,395.2 521.1,396.2 528.0,396.6 536.6,396.6 543.4,399.1 548.6,399.7 555.4,401.4 562.3,401.7 569.1,400.9 576.0,399.7 582.9,398.6 589.7,397.4 596.6,397.4 600.0,397.6 603.0,397.1 606.0,397.2 607.0,398.4 617.5,398.5 618.5,399.5 627.0,399.5" fill="none" stroke="#ff0000" stroke-width="1" />
<line x1="4" y1="441.5" x2="654" y2="441.5" stroke="#c0c0c0" stroke-width="1" stroke-dasharray="3 3"/>
<line x1="4" y1="456.5" x2="654" y2="456.5" stroke="#c0c0c0" stroke-width="1" stroke-dasharray="3 3"/>
<line x1="4" y1="472.5" x2="654" y2="472.5" stroke="#c0c0c0" stroke-width="1" stroke-dasharray="3 3"/>
<text x="7.1" y="441.7" font-size="10" fill="#000" stroke="#000" stroke-width="0.22" textLength="49.60" lengthAdjust="spacingAndGlyphs" >Stoch(5,3,3)</text>
<text x="60.1" y="441.7" font-size="10" fill="#000" stroke="#000" stroke-width="0.22" textLength="32.80" lengthAdjust="spacingAndGlyphs" >20.2312</text>
<text x="95.9" y="441.7" font-size="10" fill="#000" stroke="#000" stroke-width="0.22" textLength="33.30" lengthAdjust="spacingAndGlyphs" >16.1326</text>
<polyline points="3.1,435.2 6.0,435.2 10.3,440.9 14.6,453.7 19.2,468.3 23.1,464.3 27.4,464.3 31.7,461.4 35.1,455.4 38.0,443.1 39.7,438.6 42.0,437.1 45.4,438.0 47.1,440.0 48.3,443.1 50.0,448.9 51.4,452.0 55.7,462.3 59.7,470.0 62.6,460.6 66.9,460.2 70.3,464.9 76.3,475.1 79.7,473.9 84.0,470.9 88.3,469.1 90.9,454.6 94.3,446.9 97.7,440.0 101.1,436.6 104.6,435.2 108.9,435.7 113.1,440.9 118.3,449.4 120.0,450.9 123.4,458.0 127.7,465.7 132.0,468.8 136.3,469.1 138.9,467.8 143.1,468.8 145.7,464.9 149.1,455.4 152.6,448.9 156.9,445.5 162.0,445.1 166.3,444.3 170.6,447.7 174.0,455.4 178.3,467.4 183.4,477.4 187.7,473.4 192.0,464.9 196.3,456.3 200.6,447.7 204.0,443.4 208.3,443.4 211.7,448.6 215.1,461.4 219.4,466.1 222.9,459.7 227.1,452.9 231.4,445.1 235.7,442.6 240.0,438.7 243.4,442.6 247.7,443.4 251.7,445.1 255.4,436.2 259.7,437.4 264.0,438.6 267.4,440.3 271.7,436.6 276.0,433.1 280.3,436.6 284.6,443.4 289.7,451.1 294.9,456.3 299.1,455.4 303.4,448.6 307.7,441.7 311.7,435.2 315.4,439.7 319.7,445.1 323.1,455.4 327.4,465.7 331.7,474.3 335.1,467.4 339.4,456.3 343.7,447.2 347.1,448.2 351.4,440.9 354.9,439.7 360.0,439.8 361.7,445.1 364.3,458.0 367.7,469.1 371.7,476.3 375.4,475.1 378.9,470.9 383.1,460.6 387.4,446.9 390.9,438.3 394.3,436.2 399.1,436.2 402.9,439.1 408.0,439.7 411.4,442.1 414.9,440.3 420.0,445.1 424.3,447.7 427.7,453.4 432.0,457.1 435.4,464.0 439.2,468.3 444.0,464.9 446.6,453.7 450.9,444.3 455.1,440.3 459.4,437.4 463.7,437.4 468.0,444.3 471.4,450.3 475.2,452.9 478.3,447.7 480.0,446.7 483.4,440.0 487.2,437.4 491.1,441.7 494.6,450.3 498.9,462.3 503.1,471.7 507.4,467.8 512.6,464.9 516.9,461.4 520.3,459.7 523.7,453.7 528.0,449.4 532.3,449.4 534.9,447.2 537.4,453.7 540.9,464.0 544.3,471.7 547.7,470.5 552.0,467.8 555.4,464.0 559.7,465.7 564.0,460.6 567.4,454.6 570.9,448.2 574.3,446.0 577.7,447.2 581.1,449.9 586.3,450.3 591.4,448.6 595.7,452.0 600.0,456.4 604.0,462.0 610.0,466.0 616.0,471.0 620.0,476.0 624.0,474.0 627.0,473.0" fill="none" stroke="#20b2aa" stroke-width="1" />
<polyline points="3.1,440.0 6.0,435.7 11.1,437.4 15.4,446.9 19.7,456.3 23.1,463.1 27.4,465.4 31.7,463.1 36.0,458.9 40.2,448.2 42.9,443.0 46.0,438.8 48.9,440.2 52.9,446.4 55.7,452.5 60.0,462.3 64.3,464.0 68.6,462.3 73.7,466.6 78.9,472.2 84.0,473.4 88.3,470.5 92.6,462.3 96.0,453.7 100.3,444.3 104.6,437.4 108.9,435.2 114.0,436.6 118.3,441.7 120.0,445.1 124.3,452.0 128.6,459.7 132.9,464.9 137.1,467.8 143.1,469.1 147.4,464.0 151.7,457.1 156.0,450.3 160.3,446.5 165.4,445.5 169.7,445.1 174.0,449.4 178.3,457.1 182.6,468.3 186.9,474.6 191.1,472.9 195.4,465.7 199.7,457.1 204.0,450.3 208.3,446.0 211.7,445.1 215.1,451.1 218.6,457.1 222.0,461.4 225.4,459.7 229.7,453.7 234.0,448.6 240.0,443.5 244.3,440.9 248.6,441.4 252.9,442.6 257.1,440.0 261.4,437.9 265.7,438.6 270.0,439.1 274.3,436.6 278.6,435.2 283.7,436.6 288.0,442.6 292.3,448.9 297.4,453.7 301.7,454.1 306.0,450.3 310.3,444.3 314.6,440.0 318.9,439.7 323.1,446.0 327.4,456.3 330.9,464.0 335.1,469.1 339.4,464.9 343.7,457.1 348.0,449.4 352.3,445.1 356.6,441.7 360.0,440.3 364.3,446.9 368.6,457.1 372.9,467.4 377.1,474.3 380.6,472.9 384.9,465.7 389.1,455.4 393.4,445.1 397.7,438.3 402.0,436.9 406.3,437.9 410.6,439.7 415.7,440.3 420.0,442.1 425.1,446.0 429.4,450.3 433.7,455.4 438.0,461.4 442.3,464.9 445.7,462.3 450.0,453.7 454.3,446.0 458.6,440.9 462.9,438.3 467.1,439.1 471.4,443.4 475.7,449.4 480.0,449.9 484.3,445.1 487.7,440.9 492.0,440.0 496.3,445.1 500.6,455.4 504.0,464.0 508.3,468.3 512.6,467.8 516.9,465.7 521.1,461.4 525.4,456.3 529.7,452.0 534.0,448.9 538.3,451.1 541.7,457.1 546.0,464.9 549.4,468.8 553.7,467.8 558.0,466.6 562.3,464.3 566.6,460.6 570.9,454.6 575.1,449.9 579.4,448.6 583.7,448.9 588.0,450.3 592.3,449.9 596.6,450.6 600.0,452.9 603.0,456.0 608.0,462.0 614.0,467.0 618.0,471.0 622.0,474.0 626.0,473.0" fill="none" stroke="#ff0000" stroke-width="1" stroke-dasharray="3 3" />
<line x1="4" y1="536.5" x2="654" y2="536.5" stroke="#c0c0c0" stroke-width="1" stroke-dasharray="3 3"/>
<text x="7.1" y="497.8" font-size="10" fill="#000" stroke="#000" stroke-width="0.22" textLength="66.30" lengthAdjust="spacingAndGlyphs" >MACD(12,26,9)</text>
<text x="75.9" y="497.8" font-size="10" fill="#000" stroke="#000" stroke-width="0.22" textLength="38.30" lengthAdjust="spacingAndGlyphs" >0.001043</text>
<text x="117.1" y="497.8" font-size="10" fill="#000" stroke="#000" stroke-width="0.22" textLength="38.30" lengthAdjust="spacingAndGlyphs" >0.001439</text>
<rect x="3" y="527" width="1" height="10" fill="#0000ff"/>
<rect x="7" y="525" width="1" height="12" fill="#0000ff"/>
<rect x="11" y="526" width="1" height="11" fill="#0000ff"/>
<rect x="15" y="526" width="1" height="11" fill="#0000ff"/>
<rect x="19" y="526" width="1" height="11" fill="#0000ff"/>
<rect x="23" y="527" width="1" height="10" fill="#0000ff"/>
<rect x="27" y="527" width="1" height="10" fill="#0000ff"/>
<rect x="31" y="527" width="1" height="10" fill="#0000ff"/>
<rect x="35" y="527" width="1" height="10" fill="#0000ff"/>
<rect x="39" y="526" width="1" height="11" fill="#0000ff"/>
<rect x="43" y="526" width="1" height="11" fill="#0000ff"/>
<rect x="47" y="526" width="1" height="11" fill="#0000ff"/>
<rect x="51" y="526" width="1" height="11" fill="#0000ff"/>
<rect x="55" y="527" width="1" height="10" fill="#0000ff"/>
<rect x="59" y="528" width="1" height="9" fill="#0000ff"/>
<rect x="63" y="528" width="1" height="9" fill="#0000ff"/>
<rect x="67" y="529" width="1" height="8" fill="#0000ff"/>
<rect x="71" y="530" width="1" height="7" fill="#0000ff"/>
<rect x="75" y="533" width="1" height="4" fill="#0000ff"/>
<rect x="79" y="535" width="1" height="2" fill="#0000ff"/>
<rect x="83" y="536" width="1" height="1" fill="#0000ff"/>
<rect x="87" y="536" width="1" height="1" fill="#0000ff"/>
<rect x="91" y="535" width="1" height="2" fill="#0000ff"/>
<rect x="95" y="533" width="1" height="4" fill="#0000ff"/>
<rect x="99" y="530" width="1" height="7" fill="#0000ff"/>
<rect x="103" y="529" width="1" height="8" fill="#0000ff"/>
<rect x="107" y="527" width="1" height="10" fill="#0000ff"/>
<rect x="111" y="526" width="1" height="11" fill="#0000ff"/>
<rect x="115" y="525" width="1" height="12" fill="#0000ff"/>
<rect x="119" y="525" width="1" height="12" fill="#0000ff"/>
<rect x="123" y="525" width="1" height="12" fill="#0000ff"/>
<rect x="127" y="526" width="1" height="11" fill="#0000ff"/>
<rect x="131" y="526" width="1" height="11" fill="#0000ff"/>
<rect x="135" y="527" width="1" height="10" fill="#0000ff"/>
<rect x="139" y="528" width="1" height="9" fill="#0000ff"/>
<rect x="143" y="528" width="1" height="9" fill="#0000ff"/>
<rect x="147" y="529" width="1" height="8" fill="#0000ff"/>
<rect x="151" y="529" width="1" height="8" fill="#0000ff"/>
<rect x="155" y="529" width="1" height="8" fill="#0000ff"/>
<rect x="159" y="528" width="1" height="9" fill="#0000ff"/>
<rect x="163" y="528" width="1" height="9" fill="#0000ff"/>
<rect x="167" y="528" width="1" height="9" fill="#0000ff"/>
<rect x="171" y="529" width="1" height="8" fill="#0000ff"/>
<rect x="175" y="529" width="1" height="8" fill="#0000ff"/>
<rect x="179" y="530" width="1" height="7" fill="#0000ff"/>
<rect x="183" y="533" width="1" height="4" fill="#0000ff"/>
<rect x="187" y="534" width="1" height="3" fill="#0000ff"/>
<rect x="191" y="534" width="1" height="3" fill="#0000ff"/>
<rect x="195" y="533" width="1" height="4" fill="#0000ff"/>
<rect x="199" y="532" width="1" height="5" fill="#0000ff"/>
<rect x="203" y="531" width="1" height="6" fill="#0000ff"/>
<rect x="207" y="531" width="1" height="6" fill="#0000ff"/>
<rect x="211" y="531" width="1" height="6" fill="#0000ff"/>
<rect x="215" y="531" width="1" height="6" fill="#0000ff"/>
<rect x="219" y="531" width="1" height="6" fill="#0000ff"/>
<rect x="223" y="529" width="1" height="8" fill="#0000ff"/>
<rect x="227" y="528" width="1" height="9" fill="#0000ff"/>
<rect x="231" y="527" width="1" height="10" fill="#0000ff"/>
<rect x="235" y="526" width="1" height="11" fill="#0000ff"/>
<rect x="239" y="525" width="1" height="12" fill="#0000ff"/>
<rect x="243" y="525" width="1" height="12" fill="#0000ff"/>
<rect x="247" y="525" width="1" height="12" fill="#0000ff"/>
<rect x="251" y="523" width="1" height="14" fill="#0000ff"/>
<rect x="255" y="520" width="1" height="17" fill="#0000ff"/>
<rect x="259" y="519" width="1" height="18" fill="#0000ff"/>
<rect x="263" y="518" width="1" height="19" fill="#0000ff"/>
<rect x="267" y="516" width="1" height="21" fill="#0000ff"/>
<rect x="271" y="514" width="1" height="23" fill="#0000ff"/>
<rect x="275" y="511" width="1" height="26" fill="#0000ff"/>
<rect x="279" y="509" width="1" height="28" fill="#0000ff"/>
<rect x="283" y="506" width="1" height="31" fill="#0000ff"/>
<rect x="287" y="506" width="1" height="31" fill="#0000ff"/>
<rect x="291" y="506" width="1" height="31" fill="#0000ff"/>
<rect x="295" y="505" width="1" height="32" fill="#0000ff"/>
<rect x="299" y="505" width="1" height="32" fill="#0000ff"/>
<rect x="303" y="505" width="1" height="32" fill="#0000ff"/>
<rect x="307" y="504" width="1" height="33" fill="#0000ff"/>
<rect x="311" y="504" width="1" height="33" fill="#0000ff"/>
<rect x="315" y="505" width="1" height="32" fill="#0000ff"/>
<rect x="319" y="505" width="1" height="32" fill="#0000ff"/>
<rect x="323" y="507" width="1" height="30" fill="#0000ff"/>
<rect x="327" y="509" width="1" height="28" fill="#0000ff"/>
<rect x="331" y="511" width="1" height="26" fill="#0000ff"/>
<rect x="335" y="512" width="1" height="25" fill="#0000ff"/>
<rect x="339" y="513" width="1" height="24" fill="#0000ff"/>
<rect x="343" y="513" width="1" height="24" fill="#0000ff"/>
<rect x="347" y="515" width="1" height="22" fill="#0000ff"/>
<rect x="351" y="512" width="1" height="25" fill="#0000ff"/>
<rect x="355" y="509" width="1" height="28" fill="#0000ff"/>
<rect x="359" y="508" width="1" height="29" fill="#0000ff"/>
<rect x="363" y="511" width="1" height="26" fill="#0000ff"/>
<rect x="367" y="516" width="1" height="21" fill="#0000ff"/>
<rect x="371" y="519" width="1" height="18" fill="#0000ff"/>
<rect x="375" y="524" width="1" height="13" fill="#0000ff"/>
<rect x="379" y="526" width="1" height="11" fill="#0000ff"/>
<rect x="383" y="526" width="1" height="11" fill="#0000ff"/>
<rect x="387" y="527" width="1" height="10" fill="#0000ff"/>
<rect x="391" y="527" width="1" height="10" fill="#0000ff"/>
<rect x="395" y="525" width="1" height="12" fill="#0000ff"/>
<rect x="399" y="522" width="1" height="15" fill="#0000ff"/>
<rect x="403" y="521" width="1" height="16" fill="#0000ff"/>
<rect x="407" y="519" width="1" height="18" fill="#0000ff"/>
<rect x="411" y="517" width="1" height="20" fill="#0000ff"/>
<rect x="415" y="514" width="1" height="23" fill="#0000ff"/>
<rect x="419" y="513" width="1" height="24" fill="#0000ff"/>
<rect x="423" y="512" width="1" height="25" fill="#0000ff"/>
<rect x="427" y="512" width="1" height="25" fill="#0000ff"/>
<rect x="431" y="513" width="1" height="24" fill="#0000ff"/>
<rect x="435" y="515" width="1" height="22" fill="#0000ff"/>
<rect x="439" y="516" width="1" height="21" fill="#0000ff"/>
<rect x="443" y="515" width="1" height="22" fill="#0000ff"/>
<rect x="447" y="513" width="1" height="24" fill="#0000ff"/>
<rect x="451" y="512" width="1" height="25" fill="#0000ff"/>
<rect x="455" y="511" width="1" height="26" fill="#0000ff"/>
<rect x="459" y="507" width="1" height="30" fill="#0000ff"/>
<rect x="463" y="505" width="1" height="32" fill="#0000ff"/>
<rect x="467" y="503" width="1" height="34" fill="#0000ff"/>
<rect x="471" y="501" width="1" height="36" fill="#0000ff"/>
<rect x="475" y="500" width="1" height="37" fill="#0000ff"/>
<rect x="479" y="496" width="1" height="41" fill="#0000ff"/>
<rect x="483" y="491" width="1" height="46" fill="#0000ff"/>
<rect x="487" y="490" width="1" height="47" fill="#0000ff"/>
<rect x="491" y="490" width="1" height="47" fill="#0000ff"/>
<rect x="495" y="493" width="1" height="44" fill="#0000ff"/>
<rect x="499" y="496" width="1" height="41" fill="#0000ff"/>
<rect x="503" y="498" width="1" height="39" fill="#0000ff"/>
<rect x="507" y="500" width="1" height="37" fill="#0000ff"/>
<rect x="511" y="503" width="1" height="34" fill="#0000ff"/>
<rect x="515" y="506" width="1" height="31" fill="#0000ff"/>
<rect x="519" y="507" width="1" height="30" fill="#0000ff"/>
<rect x="523" y="510" width="1" height="27" fill="#0000ff"/>
<rect x="527" y="511" width="1" height="26" fill="#0000ff"/>
<rect x="531" y="512" width="1" height="25" fill="#0000ff"/>
<rect x="535" y="513" width="1" height="24" fill="#0000ff"/>
<rect x="539" y="517" width="1" height="20" fill="#0000ff"/>
<rect x="543" y="521" width="1" height="16" fill="#0000ff"/>
<rect x="547" y="522" width="1" height="15" fill="#0000ff"/>
<rect x="551" y="525" width="1" height="12" fill="#0000ff"/>
<rect x="555" y="528" width="1" height="9" fill="#0000ff"/>
<rect x="559" y="529" width="1" height="8" fill="#0000ff"/>
<rect x="563" y="530" width="1" height="7" fill="#0000ff"/>
<rect x="567" y="531" width="1" height="6" fill="#0000ff"/>
<rect x="571" y="526" width="1" height="11" fill="#0000ff"/>
<rect x="575" y="522" width="1" height="15" fill="#0000ff"/>
<rect x="579" y="521" width="1" height="16" fill="#0000ff"/>
<rect x="583" y="518" width="1" height="19" fill="#0000ff"/>
<rect x="587" y="517" width="1" height="20" fill="#0000ff"/>
<rect x="591" y="516" width="1" height="21" fill="#0000ff"/>
<rect x="595" y="516" width="1" height="21" fill="#0000ff"/>
<rect x="599" y="517" width="1" height="20" fill="#0000ff"/>
<rect x="603" y="517" width="1" height="20" fill="#0000ff"/>
<rect x="607" y="517" width="1" height="20" fill="#0000ff"/>
<rect x="611" y="519" width="1" height="18" fill="#0000ff"/>
<rect x="615" y="520" width="1" height="17" fill="#0000ff"/>
<rect x="619" y="522" width="1" height="15" fill="#0000ff"/>
<rect x="623" y="523" width="1" height="14" fill="#0000ff"/>
<rect x="627" y="524" width="1" height="13" fill="#0000ff"/>
<polyline points="3.4,533.7 7.7,531.7 12.0,530.6 17.1,529.4 22.3,526.9 27.4,526.0 34.3,525.1 41.1,525.1 48.0,525.1 54.9,525.5 61.7,526.0 68.6,526.0 72.0,527.7 77.1,528.6 82.3,529.9 87.4,531.1 92.6,532.0 97.7,533.4 102.9,533.7 108.0,532.9 113.1,530.6 120.0,528.9 123.4,526.5 128.6,526.0 133.7,525.1 138.9,525.1 142.3,526.0 147.4,526.9 154.3,527.2 161.1,528.2 168.0,528.2 174.9,528.6 181.7,528.9 188.6,529.4 195.4,529.9 202.3,530.6 209.1,531.1 216.0,531.1 222.9,530.6 228.0,529.9 233.1,528.9 240.0,528.4 243.4,528.2 250.3,526.0 257.1,524.3 264.0,522.1 269.1,520.3 274.3,518.3 281.1,515.7 286.3,512.8 291.4,510.6 298.3,508.3 303.4,506.3 308.6,504.6 315.4,504.6 322.3,504.6 329.1,504.6 334.3,505.9 341.1,507.1 346.3,509.4 351.4,510.6 360.0,510.8 363.4,511.4 370.3,511.8 377.1,514.0 384.0,516.6 389.1,519.1 394.3,521.4 401.1,523.4 408.0,523.4 413.1,521.7 418.3,520.0 423.4,517.9 428.6,516.2 435.4,514.9 442.3,513.5 449.1,513.1 456.0,512.3 462.9,511.1 468.0,510.1 473.1,507.7 480.0,504.0 483.4,502.0 488.6,498.6 493.7,495.7 500.6,494.6 507.4,494.3 514.3,495.1 521.1,497.7 526.3,501.1 531.4,504.2 538.3,507.7 545.1,511.1 552.0,514.9 557.1,518.3 562.3,520.9 567.4,523.4 572.6,524.8 579.4,525.1 586.3,524.3 593.1,522.1 600.0,519.3 604.0,518.0 610.0,517.0 616.0,516.6 624.0,517.4 628.0,517.6" fill="none" stroke="#ff0000" stroke-width="1" stroke-dasharray="3 3" />
<rect x="2" y="2" width="653" height="1" fill="#000"/>
<rect x="2" y="375" width="653" height="1" fill="#000"/>
<rect x="2" y="2" width="1" height="374" fill="#000"/>
<rect x="654" y="2" width="1" height="374" fill="#000"/>
<rect x="2" y="377" width="653" height="1" fill="#000"/>
<rect x="2" y="427" width="653" height="1" fill="#000"/>
<rect x="2" y="377" width="1" height="51" fill="#000"/>
<rect x="654" y="377" width="1" height="51" fill="#000"/>
<rect x="2" y="429" width="653" height="1" fill="#000"/>
<rect x="2" y="483" width="653" height="1" fill="#000"/>
<rect x="2" y="429" width="1" height="55" fill="#000"/>
<rect x="654" y="429" width="1" height="55" fill="#000"/>
<rect x="2" y="485" width="653" height="1" fill="#000"/>
<rect x="2" y="539" width="653" height="1" fill="#000"/>
<rect x="2" y="485" width="1" height="55" fill="#000"/>
<rect x="654" y="485" width="1" height="55" fill="#000"/>
<g shape-rendering="auto">
<rect x="655" y="9" width="2" height="1" fill="#000"/>
<text x="660.5" y="12.9" font-size="10" fill="#000" stroke="#000" stroke-width="0.22" textLength="32.50" lengthAdjust="spacingAndGlyphs" >1.13145</text>
<rect x="655" y="42" width="2" height="1" fill="#000"/>
<text x="660.5" y="46.1634" font-size="10" fill="#000" stroke="#000" stroke-width="0.22" textLength="32.50" lengthAdjust="spacingAndGlyphs" >1.12590</text>
<rect x="655" y="75" width="2" height="1" fill="#000"/>
<text x="660.5" y="78.5277" font-size="10" fill="#000" stroke="#000" stroke-width="0.22" textLength="32.50" lengthAdjust="spacingAndGlyphs" >1.12050</text>
<rect x="655" y="108" width="2" height="1" fill="#000"/>
<text x="660.5" y="111.791" font-size="10" fill="#000" stroke="#000" stroke-width="0.22" textLength="32.50" lengthAdjust="spacingAndGlyphs" >1.11495</text>
<rect x="655" y="141" width="2" height="1" fill="#000"/>
<text x="660.5" y="145.054" font-size="10" fill="#000" stroke="#000" stroke-width="0.22" textLength="32.50" lengthAdjust="spacingAndGlyphs" >1.10940</text>
<rect x="655" y="174" width="2" height="1" fill="#000"/>
<text x="660.5" y="178.318" font-size="10" fill="#000" stroke="#000" stroke-width="0.22" textLength="32.50" lengthAdjust="spacingAndGlyphs" >1.10385</text>
<rect x="655" y="207" width="2" height="1" fill="#000"/>
<text x="660.5" y="210.682" font-size="10" fill="#000" stroke="#000" stroke-width="0.22" textLength="32.50" lengthAdjust="spacingAndGlyphs" >1.09845</text>
<rect x="655" y="240" width="2" height="1" fill="#000"/>
<text x="660.5" y="243.946" font-size="10" fill="#000" stroke="#000" stroke-width="0.22" textLength="32.50" lengthAdjust="spacingAndGlyphs" >1.09290</text>
<rect x="655" y="273" width="2" height="1" fill="#000"/>
<text x="660.5" y="277.209" font-size="10" fill="#000" stroke="#000" stroke-width="0.22" textLength="32.50" lengthAdjust="spacingAndGlyphs" >1.08735</text>
<rect x="655" y="307" width="2" height="1" fill="#000"/>
<text x="660.5" y="310.472" font-size="10" fill="#000" stroke="#000" stroke-width="0.22" textLength="32.50" lengthAdjust="spacingAndGlyphs" >1.08180</text>
<rect x="655" y="340" width="2" height="1" fill="#000"/>
<text x="660.5" y="343.736" font-size="10" fill="#000" stroke="#000" stroke-width="0.22" textLength="32.50" lengthAdjust="spacingAndGlyphs" >1.07625</text>
<rect x="655" y="372" width="2" height="1" fill="#000"/>
<text x="660.5" y="376.1" font-size="10" fill="#000" stroke="#000" stroke-width="0.22" textLength="32.50" lengthAdjust="spacingAndGlyphs" >1.07085</text>
<rect x="656" y="61" width="41" height="11" fill="#ff0000"/>
<text x="660.5" y="69.4" font-size="10" fill="#fff" stroke="#fff" stroke-width="0.22" textLength="32.50" lengthAdjust="spacingAndGlyphs" >1.12177</text>
<rect x="656" y="75" width="41" height="11" fill="#ff0000"/>
<text x="660.5" y="83.4" font-size="10" fill="#fff" stroke="#fff" stroke-width="0.22" textLength="32.50" lengthAdjust="spacingAndGlyphs" >1.11938</text>
<rect x="656" y="95" width="41" height="11" fill="#000"/>
<text x="660.5" y="103.4" font-size="10" fill="#fff" stroke="#fff" stroke-width="0.22" textLength="32.50" lengthAdjust="spacingAndGlyphs" >1.11621</text>
<rect x="656" y="105" width="41" height="11" fill="#008000"/>
<text x="660.5" y="113.4" font-size="10" fill="#fff" stroke="#fff" stroke-width="0.22" textLength="32.50" lengthAdjust="spacingAndGlyphs" >1.11450</text>
<rect x="656" y="127" width="41" height="11" fill="#008000"/>
<text x="660.5" y="135.4" font-size="10" fill="#fff" stroke="#fff" stroke-width="0.22" textLength="32.50" lengthAdjust="spacingAndGlyphs" >1.11079</text>
<rect x="656" y="154" width="41" height="11" fill="#008000"/>
<text x="660.5" y="162.4" font-size="10" fill="#fff" stroke="#fff" stroke-width="0.22" textLength="32.50" lengthAdjust="spacingAndGlyphs" >1.10620</text>
<text x="658" y="388.1" font-size="10" fill="#000" stroke="#000" stroke-width="0.22" textLength="15.01" lengthAdjust="spacingAndGlyphs" >100</text>
<text x="657.2" y="397" font-size="10" fill="#000" stroke="#000" stroke-width="0.22" textLength="10.01" lengthAdjust="spacingAndGlyphs" >70</text>
<text x="657.2" y="406" font-size="10" fill="#000" stroke="#000" stroke-width="0.22" textLength="10.01" lengthAdjust="spacingAndGlyphs" >50</text>
<text x="657.2" y="416" font-size="10" fill="#000" stroke="#000" stroke-width="0.22" textLength="10.01" lengthAdjust="spacingAndGlyphs" >30</text>
<text x="658" y="423.7" font-size="10" fill="#000" stroke="#000" stroke-width="0.22" textLength="5.00" lengthAdjust="spacingAndGlyphs" >0</text>
<text x="658" y="440.1" font-size="10" fill="#000" stroke="#000" stroke-width="0.22" textLength="15.01" lengthAdjust="spacingAndGlyphs" >100</text>
<text x="657" y="445.1" font-size="10" fill="#000" stroke="#000" stroke-width="0.22" textLength="10.01" lengthAdjust="spacingAndGlyphs" >80</text>
<text x="657" y="459.9" font-size="10" fill="#000" stroke="#000" stroke-width="0.22" textLength="10.01" lengthAdjust="spacingAndGlyphs" >50</text>
<text x="657" y="475.9" font-size="10" fill="#000" stroke="#000" stroke-width="0.22" textLength="10.01" lengthAdjust="spacingAndGlyphs" >20</text>
<text x="658" y="481.1" font-size="10" fill="#000" stroke="#000" stroke-width="0.22" textLength="5.00" lengthAdjust="spacingAndGlyphs" >0</text>
<rect x="655" y="379" width="1" height="1" fill="#000"/>
<rect x="655" y="426" width="1" height="1" fill="#000"/>
<rect x="655" y="431" width="1" height="1" fill="#000"/>
<rect x="655" y="482" width="1" height="1" fill="#000"/>
<rect x="655" y="487" width="1" height="1" fill="#000"/>
<rect x="655" y="538" width="1" height="1" fill="#000"/>
<text x="658.3" y="495.9" font-size="10" fill="#000" stroke="#000" stroke-width="0.22" textLength="37.53" lengthAdjust="spacingAndGlyphs" >0.004005</text>
<text x="657.6" y="539.5" font-size="10" fill="#000" stroke="#000" stroke-width="0.22" textLength="18.30" lengthAdjust="spacingAndGlyphs" >0.00</text>
<text x="661" y="535.7" font-size="10" fill="#000" stroke="#000" stroke-width="0.22" textLength="37.53" lengthAdjust="spacingAndGlyphs" >0.000189</text>
<path d="M6 9 L13 9 L9.5 13 Z" fill="#000"/>
<text x="18.1" y="13.7" font-size="10" fill="#000" stroke="#000" stroke-width="0.22" textLength="54.20" lengthAdjust="spacingAndGlyphs" >EURUSD,H1</text>
<text x="78.1" y="13.7" font-size="10" fill="#000" stroke="#000" stroke-width="0.22" textLength="33.50" lengthAdjust="spacingAndGlyphs" >1.11608</text>
<text x="114.3" y="13.7" font-size="10" fill="#000" stroke="#000" stroke-width="0.22" textLength="33.40" lengthAdjust="spacingAndGlyphs" >1.11632</text>
<text x="150.1" y="13.7" font-size="10" fill="#000" stroke="#000" stroke-width="0.22" textLength="33.80" lengthAdjust="spacingAndGlyphs" >1.11601</text>
<text x="186.2" y="13.7" font-size="10" fill="#000" stroke="#000" stroke-width="0.22" textLength="33.20" lengthAdjust="spacingAndGlyphs" >1.11621</text>
<rect x="3" y="540" width="1" height="3" fill="#000"/>
<text x="2.2" y="551.6" font-size="10" fill="#000" stroke="#000" stroke-width="0.22" textLength="52.30" lengthAdjust="spacingAndGlyphs" >24 Feb 2020</text>
<rect x="67" y="540" width="1" height="3" fill="#000"/>
<text x="66.2" y="551.6" font-size="10" fill="#000" stroke="#000" stroke-width="0.22" textLength="54.20" lengthAdjust="spacingAndGlyphs" >25 Feb 11:00</text>
<rect x="131" y="540" width="1" height="3" fill="#000"/>
<text x="130.2" y="551.6" font-size="10" fill="#000" stroke="#000" stroke-width="0.22" textLength="54.89" lengthAdjust="spacingAndGlyphs" >26 Feb 03:00</text>
<rect x="195" y="540" width="1" height="3" fill="#000"/>
<text x="194.2" y="551.6" font-size="10" fill="#000" stroke="#000" stroke-width="0.22" textLength="54.89" lengthAdjust="spacingAndGlyphs" >26 Feb 19:00</text>
<rect x="259" y="540" width="1" height="3" fill="#000"/>
<text x="258.2" y="551.6" font-size="10" fill="#000" stroke="#000" stroke-width="0.22" textLength="54.20" lengthAdjust="spacingAndGlyphs" >27 Feb 11:00</text>
<rect x="323" y="540" width="1" height="3" fill="#000"/>
<text x="322.2" y="551.6" font-size="10" fill="#000" stroke="#000" stroke-width="0.22" textLength="54.89" lengthAdjust="spacingAndGlyphs" >28 Feb 03:00</text>
<rect x="387" y="540" width="1" height="3" fill="#000"/>
<text x="386.2" y="551.6" font-size="10" fill="#000" stroke="#000" stroke-width="0.22" textLength="54.89" lengthAdjust="spacingAndGlyphs" >28 Feb 19:00</text>
<rect x="451" y="540" width="1" height="3" fill="#000"/>
<text x="450.2" y="551.6" font-size="10" fill="#000" stroke="#000" stroke-width="0.22" textLength="49.01" lengthAdjust="spacingAndGlyphs" >2 Mar 11:00</text>
<rect x="515" y="540" width="1" height="3" fill="#000"/>
<text x="514.2" y="551.6" font-size="10" fill="#000" stroke="#000" stroke-width="0.22" textLength="49.70" lengthAdjust="spacingAndGlyphs" >3 Mar 03:00</text>
<rect x="579" y="540" width="1" height="3" fill="#000"/>
<text x="578.2" y="551.6" font-size="10" fill="#000" stroke="#000" stroke-width="0.22" textLength="49.70" lengthAdjust="spacingAndGlyphs" >3 Mar 19:00</text>
</g>
</svg>
</body></html>
